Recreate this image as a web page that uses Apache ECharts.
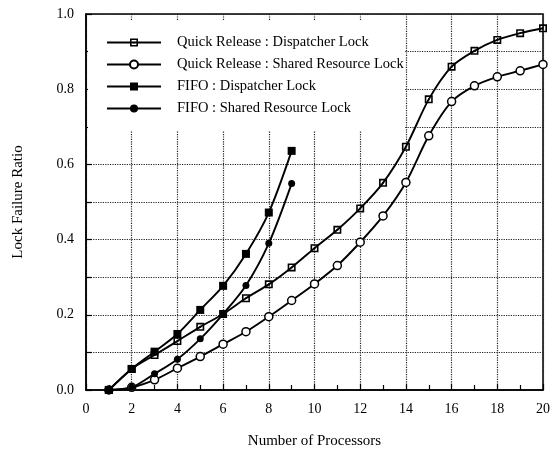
<!DOCTYPE html>
<html>
<head>
<meta charset="utf-8">
<script src="https://cdn.jsdelivr.net/npm/echarts@6/dist/echarts.min.js"></script>
<style>html,body{margin:0;padding:0;background:#fff}#c{width:556px;height:458px}</style>
</head>
<body>
<div id="c"></div>
<script>
const processors = [1,2,3,4,5,6,7,8,9,10,11,12,13,14,15,16,17,18,19,20];
const fifoProcessors = [1,2,3,4,5,6,7,8,9];
const qrDispatcher = [0.0,0.056,0.093,0.130,0.168,0.202,0.244,0.281,0.326,0.377,0.426,0.483,0.551,0.647,0.773,0.860,0.902,0.931,0.949,0.962];
const qrShared = [0.0,0.007,0.027,0.058,0.089,0.122,0.155,0.195,0.238,0.282,0.331,0.393,0.463,0.552,0.676,0.767,0.809,0.833,0.849,0.866];
const fifoDispatcher = [0.0,0.056,0.102,0.149,0.213,0.277,0.362,0.472,0.636];
const fifoShared = [0.0,0.007,0.043,0.082,0.136,0.202,0.278,0.390,0.549];
const seriesNames = ['Quick Release : Dispatcher Lock','Quick Release : Shared Resource Lock','FIFO : Dispatcher Lock','FIFO : Shared Resource Lock'];
const xTitle = 'Number of Processors';
const yTitle = 'Lock Failure Ratio';

const font = 'Liberation Serif';
const pairs = (xs, ys) => xs.map((x, i) => [x, ys[i]]);
const lineStyle = {color: '#000', width: 1.9};
const squareDot = 'path://M0,0H10V10H0Z M2,2V8H8V2Z M4,4H6V6H4Z';

const chart = echarts.init(document.getElementById('c'));
chart.setOption({
  animation: false,
  backgroundColor: '#fff',
  grid: {left: 86, right: 13, top: 14, bottom: 68, show: true, borderColor: '#000', borderWidth: 1.5},
  legend: {
    left: 88, top: 20, orient: 'vertical',
    backgroundColor: '#fff',
    padding: [15, 1, 15, 18],
    itemWidth: 54, itemHeight: 10, itemGap: 7,
    textStyle: {fontFamily: font, fontSize: 14.5, color: '#000', padding: [0,0,0,11]},
    data: seriesNames
  },
  xAxis: {
    type: 'value', min: 0, max: 20, interval: 2,
    name: xTitle, nameLocation: 'middle', nameGap: 44,
    nameTextStyle: {fontFamily: font, fontSize: 15, color: '#000'},
    axisLine: {onZero: false, lineStyle: {color: '#000', width: 1.5}},
    axisTick: {inside: true, length: 6, lineStyle: {color: '#000', width: 1.2}},
    minorTick: {show: true, splitNumber: 2, length: 5, lineStyle: {color: '#000', width: 1.2}},
    axisLabel: {fontFamily: font, fontSize: 14, color: '#000', margin: 12},
    splitLine: {show: true, lineStyle: {color: '#222', type: 'dotted', width: 1.2}}
  },
  yAxis: {
    type: 'value', min: 0, max: 1, interval: 0.1,
    name: yTitle, nameLocation: 'middle', nameGap: 60,
    nameTextStyle: {fontFamily: font, fontSize: 15, color: '#000'},
    axisLine: {onZero: false, lineStyle: {color: '#000', width: 1.5}},
    axisTick: {inside: true, length: 6, lineStyle: {color: '#000', width: 1.2}},
    axisLabel: {fontFamily: font, fontSize: 14, color: '#000', margin: 12,
      formatter: v => (Math.round(v * 10) % 2 ? '' : v.toFixed(1))},
    splitLine: {show: true, lineStyle: {color: '#222', type: 'dotted', width: 1.2}}
  },
  series: [
    {name: seriesNames[0], type: 'line', smooth: 0.3, data: pairs(processors, qrDispatcher),
     symbol: squareDot, symbolSize: 8, lineStyle, itemStyle: {color: '#000'}},
    {name: seriesNames[1], type: 'line', smooth: 0.3, data: pairs(processors, qrShared),
     symbol: 'circle', symbolSize: 8, lineStyle, itemStyle: {color: '#fff', borderColor: '#000', borderWidth: 1.5}},
    {name: seriesNames[2], type: 'line', smooth: 0.3, data: pairs(fifoProcessors, fifoDispatcher),
     symbol: 'rect', symbolSize: 8, lineStyle, itemStyle: {color: '#000'}},
    {name: seriesNames[3], type: 'line', smooth: 0.3, data: pairs(fifoProcessors, fifoShared),
     symbol: 'circle', symbolSize: 7, lineStyle, itemStyle: {color: '#000'}}
  ]
});
</script>
</body>
</html>
